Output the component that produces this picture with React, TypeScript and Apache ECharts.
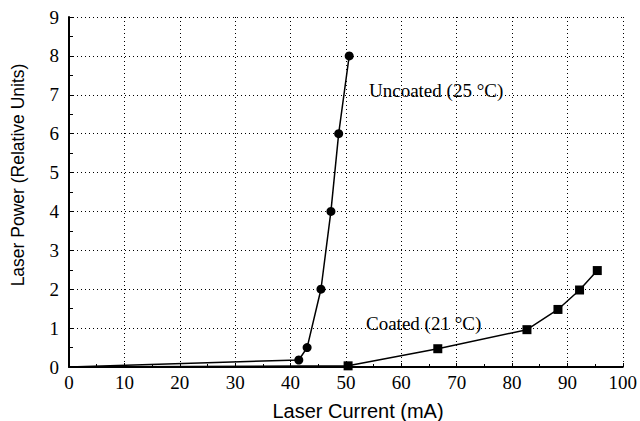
import React, { useEffect, useRef } from "react";
import * as echarts from "echarts";

const uncoatedX = [0, 41.5, 43, 45.5, 47.3, 48.7, 50.6];
const uncoatedY = [0, 0.18, 0.5, 2, 4, 6, 8];
const uncoatedMarker = [false, true, true, true, true, true, true];

const coatedX = [0, 50.4, 66.6, 82.7, 88.3, 92.2, 95.4];
const coatedY = [0, 0.03, 0.47, 0.96, 1.48, 1.98, 2.48];
const coatedMarker = [false, true, true, true, true, true, true];

const xTicks = [0, 10, 20, 30, 40, 50, 60, 70, 80, 90, 100];
const yTicks = [0, 1, 2, 3, 4, 5, 6, 7, 8, 9];

const xName = "Laser Current (mA)";
const yName = "Laser Power (Relative Units)";
const uncoatedLabel = "Uncoated (25 °C)";
const coatedLabel = "Coated (21 °C)";

function pts(xs: number[], ys: number[], marks: boolean[]) {
  return xs.map((x, i) => ({
    value: [x, ys[i]],
    symbolSize: marks[i] ? 9 : 0,
  }));
}

export default function App() {
  const ref = useRef<HTMLDivElement>(null);
  useEffect(() => {
    if (!ref.current) return;
    const chart = echarts.init(ref.current, null, { renderer: "svg" });
    const serif = "'Liberation Serif', 'Times New Roman', serif";
    const sans = "'Liberation Sans', Arial, sans-serif";
    const grid = { type: [1, 3] as any, color: "#000", width: 1 };
    chart.setOption({
      animation: false,
      backgroundColor: "#fff",
      grid: { left: 69, right: 12, top: 17, bottom: 54 },
      xAxis: {
        type: "value",
        min: xTicks[0],
        max: xTicks[xTicks.length - 1],
        interval: 10,
        axisLine: { show: true, lineStyle: { color: "#000", width: 2 } },
        axisTick: { show: true, inside: true, length: 4, lineStyle: { color: "#000" } },
        minorTick: { show: true, splitNumber: 2, length: 3, lineStyle: { color: "#000" } },
        axisLabel: { fontFamily: serif, fontSize: 19, color: "#000", margin: 6 },
        splitLine: { show: true, lineStyle: grid },
      },
      yAxis: {
        type: "value",
        min: yTicks[0],
        max: yTicks[yTicks.length - 1],
        interval: 1,
        axisLine: { show: true, lineStyle: { color: "#000", width: 2 } },
        axisTick: { show: true, inside: true, length: 4, lineStyle: { color: "#000" } },
        minorTick: { show: true, splitNumber: 2, length: 4, lineStyle: { color: "#000" } },
        axisLabel: { fontFamily: serif, fontSize: 19, color: "#000", margin: 10 },
        splitLine: { show: true, lineStyle: grid },
      },
      series: [
        {
          type: "line",
          data: pts(uncoatedX, uncoatedY, uncoatedMarker),
          symbol: "circle",
          showAllSymbol: true,
          lineStyle: { color: "#000", width: 1.5 },
          itemStyle: { color: "#000" },
          z: 3,
        },
        {
          type: "line",
          data: pts(coatedX, coatedY, coatedMarker),
          symbol: "rect",
          showAllSymbol: true,
          lineStyle: { color: "#000", width: 1.5 },
          itemStyle: { color: "#000" },
          z: 3,
        },
      ],
      graphic: [
        {
          type: "text",
          x: 369,
          y: 90,
          style: {
            text: uncoatedLabel,
            font: `19px ${serif}`,
            fill: "#000",
            verticalAlign: "middle",
          },
        },
        {
          type: "text",
          x: 366,
          y: 323,
          style: {
            text: coatedLabel,
            font: `19px ${serif}`,
            fill: "#000",
            verticalAlign: "middle",
          },
        },
        {
          type: "text",
          x: 358,
          y: 411,
          style: {
            text: xName,
            font: `20px ${sans}`,
            fill: "#000",
            align: "center",
            verticalAlign: "middle",
          },
        },
        {
          type: "text",
          x: 18,
          y: 175,
          rotation: Math.PI / 2,
          style: {
            text: yName,
            font: `17.5px ${sans}`,
            fill: "#000",
            align: "center",
            verticalAlign: "middle",
          },
        },
      ],
    });
    return () => chart.dispose();
  }, []);
  return (
    <div
      ref={ref}
      style={{ width: 640, height: 421, position: "fixed", left: 0, top: 0 }}
    />
  );
}
